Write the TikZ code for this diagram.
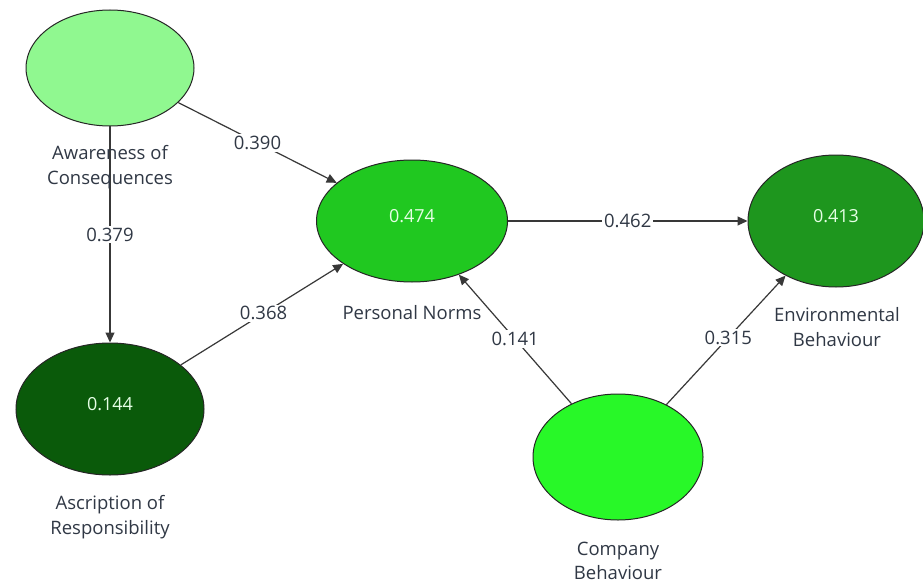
\documentclass[tikz,border=0pt]{standalone}
\usepackage{fontspec}
\setmainfont{Open Sans}
\usetikzlibrary{shapes.geometric,arrows.meta}
\definecolor{cAC}{HTML}{90F890}
\definecolor{cPN}{HTML}{20C820}
\definecolor{cEB}{HTML}{1E961E}
\definecolor{cAR}{HTML}{0A5A0A}
\definecolor{cCB}{HTML}{28F828}
\definecolor{txt}{HTML}{303845}
\definecolor{edge}{HTML}{383838}
\tikzset{
  latent/.style={ellipse, draw=black!85, line width=1pt, inner sep=0pt, text=white!90!green, font=\fontsize{18}{21}\selectfont},
  cname/.style={align=center, text=txt, font=\fontsize{18.5}{24.5}\selectfont},
  path/.style={draw=edge, line width=1.2pt, -{Triangle[length=10pt,width=9pt]}},
  coef/.style={fill=white, inner sep=2pt, text=txt, font=\fontsize{18.5}{21}\selectfont}
}
\newcommand{\upval}[1]{\raisebox{10pt}{#1}}
\begin{document}
\begin{tikzpicture}[x=1pt,y=-1pt]
\useasboundingbox[fill=white] (0,0) rectangle (923,583);
\node[latent, fill=cAC, minimum width=168pt, minimum height=116pt] (AC) at (110,68) {};
\node[latent, fill=cPN, minimum width=191pt, minimum height=122pt] (PN) at (412,221) {\upval{0.474}};
\node[latent, fill=cEB, minimum width=176pt, minimum height=132pt] (EB) at (836,221) {\upval{0.413}};
\node[latent, fill=cAR, minimum width=188pt, minimum height=132pt] (AR) at (110,409) {\upval{0.144}};
\node[latent, fill=cCB, minimum width=170pt, minimum height=126pt] (CB) at (618,457) {};

\draw[path] (AC) -- node[coef, pos=0.5] (l1) {0.379} (AR);
\draw[path] (AC) -- node[coef, pos=0.5] (l2) {0.390} (PN);
\draw[path] (AR) -- node[coef, pos=0.51] (l3) {0.368} (PN);
\draw[path] (PN) -- node[coef, pos=0.5] (l4) {0.462} (EB);
\draw[path] (CB) -- node[coef, pos=0.5] (l5) {0.141} (PN);
\draw[path] (CB) -- node[coef, pos=0.52] (l6) {0.315} (EB);

\node[cname] (nAC) at (110,167) {Awareness of\\Consequences};
\node[cname] (nPN) at (412,313) {Personal Norms};
\node[cname] (nEB) at (837,327) {Environmental\\Behaviour};
\node[cname] (nAR) at (110,517) {Ascription of\\Responsibility};
\node[cname] (nCB) at (618,561) {Company\\Behaviour};
\end{tikzpicture}
\end{document}
